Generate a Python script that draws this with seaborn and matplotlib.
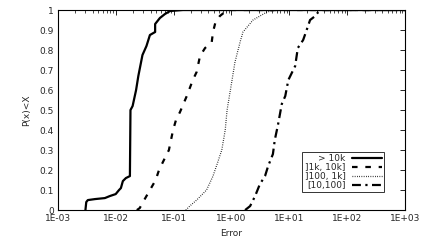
import numpy as np
import pandas as pd
import seaborn as sns
import matplotlib.pyplot as plt

# CDF points: (error, cumulative probability)
err_10k = [0.0030, 0.0031, 0.0033, 0.0044, 0.0065, 0.0079, 0.0100, 0.0114, 0.0123, 0.0133,
           0.0150, 0.0176, 0.0180, 0.0196, 0.0225, 0.0246, 0.0290, 0.0340, 0.0390, 0.0480,
           0.0480, 0.0580, 0.0710, 0.0870, 0.1450, 1.0, 10.0, 1000.0]
p_10k = [0.0, 0.04, 0.05, 0.055, 0.06, 0.07, 0.08, 0.10, 0.11, 0.145,
         0.16, 0.17, 0.50, 0.52, 0.60, 0.67, 0.775, 0.82, 0.875, 0.89,
         0.93, 0.96, 0.98, 0.995, 1.0, 1.0, 1.0, 1.0]

err_1k = [0.0232, 0.026, 0.031, 0.039, 0.049, 0.056, 0.068, 0.083, 0.098, 0.110,
          0.129, 0.169, 0.215, 0.25, 0.286, 0.35, 0.456, 0.48, 0.53, 0.63,
          0.77, 0.95, 10.0, 1000.0]
p_1k = [0.0, 0.01, 0.05, 0.10, 0.15, 0.20, 0.25, 0.30, 0.40, 0.45,
        0.49, 0.57, 0.65, 0.69, 0.77, 0.81, 0.84, 0.89, 0.94, 0.97,
        0.99, 1.0, 1.0, 1.0]

err_100 = [0.163, 0.19, 0.25, 0.37, 0.48, 0.58, 0.68, 0.78, 0.84, 1.01,
           1.15, 1.41, 1.58, 2.36, 4.1, 6.0, 100.0, 1000.0]
p_100 = [0.0, 0.02, 0.05, 0.10, 0.17, 0.24, 0.30, 0.40, 0.50, 0.64,
         0.74, 0.84, 0.89, 0.95, 0.99, 1.0, 1.0, 1.0]

err_10 = [1.72, 2.1, 2.56, 3.1, 3.8, 4.3, 5.2, 5.6, 6.4, 7.4,
          8.5, 9.6, 12.6, 14.0, 17.3, 19.9, 22.8, 28.0, 31.6, 37.0, 1000.0]
p_10 = [0.0, 0.02, 0.07, 0.13, 0.17, 0.22, 0.28, 0.35, 0.43, 0.53,
        0.57, 0.65, 0.72, 0.81, 0.85, 0.90, 0.95, 0.97, 0.99, 1.0, 1.0]

labels = ['> 10k', ']1k, 10k]', ']100, 1k]', '[10,100]']
xticks = [1e-3, 1e-2, 1e-1, 1e0, 1e1, 1e2, 1e3]
xtick_labels = ['1E-03', '1E-02', '1E-01', '1E+00', '1E+01', '1E+02', '1E+03']
yticks = [0, 0.1, 0.2, 0.3, 0.4, 0.5, 0.6, 0.7, 0.8, 0.9, 1]
ytick_labels = ['0', '0.1', '0.2', '0.3', '0.4', '0.5', '0.6', '0.7', '0.8', '0.9', '1']

sns.set_style('white')
plt.rcParams['font.family'] = ['DejaVu Sans']
plt.rcParams['font.size'] = 6.5

fig = plt.figure(figsize=(4.22, 2.44), dpi=100)
ax = fig.add_axes([0.137, 0.139, 0.823, 0.82])

series = [(err_10k, p_10k), (err_1k, p_1k), (err_100, p_100), (err_10, p_10)]
styles = [dict(ls='-', lw=1.6),
          dict(ls=(0, (2.5, 3.5)), lw=1.6),
          dict(ls=(0, (0.6, 1.2)), lw=0.9),
          dict(ls=(0, (4, 2, 1, 2)), lw=1.6)]
for (x, y), lab, st in zip(series, labels, styles):
    df = pd.DataFrame({'error': x, 'p': y})
    sns.lineplot(data=df, x='error', y='p', ax=ax, color='black', label=lab,
                 sort=False, estimator=None, **st)

ax.set_xscale('log')
ax.set_xlim(1e-3, 1e3)
ax.set_ylim(0, 1)
ax.set_xticks(xticks)
ax.set_xticklabels(xtick_labels)
ax.set_yticks(yticks)
ax.set_yticklabels(ytick_labels)
ax.tick_params(which='both', direction='in', top=True, right=True, color='black',
               labelsize=6.5, pad=3)
ax.tick_params(which='major', length=3.5, width=0.6)
ax.tick_params(which='minor', length=2, width=0.5)
ax.minorticks_on()
ax.yaxis.set_minor_locator(plt.NullLocator())
for s in ax.spines.values():
    s.set_color('black')
    s.set_linewidth(0.8)
ax.set_xlabel('Error', fontsize=6.5, labelpad=4)
ax.set_ylabel('P(x)<X', fontsize=6.5, labelpad=6)

leg = ax.legend(loc='lower right', bbox_to_anchor=(0.939, 0.09), markerfirst=False,
                fontsize=6.5, frameon=True, fancybox=False, handlelength=3.3,
                borderpad=0.25, labelspacing=0.0, handletextpad=0.7, borderaxespad=0)
leg.get_frame().set_edgecolor('black')
leg.get_frame().set_linewidth(0.7)
for t in leg.get_texts():
    t.set_ha('right')

fig.savefig('out.png', dpi=100)
